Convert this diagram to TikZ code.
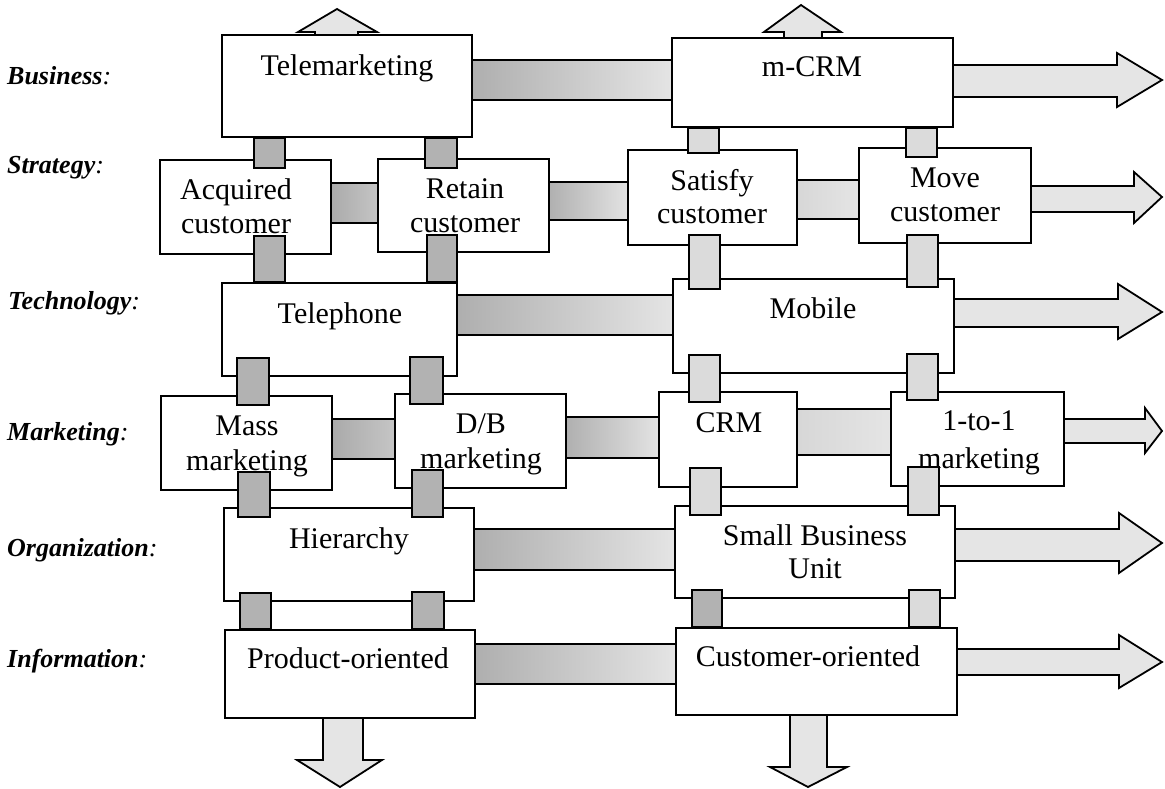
\documentclass[tikz,border=0pt]{standalone}
\usepackage{fontspec}
\setmainfont{Liberation Serif}
\pgfdeclarelayer{bg}
\pgfsetlayers{bg,main}
\tikzset{
  box/.style={draw, line width=1.8pt, fill=white, inner sep=0pt},
  txt/.style={anchor=base, inner sep=0pt, font=\fontsize{30}{34}\selectfont},
  lab/.style={anchor=base west, inner sep=0pt, font=\fontsize{26}{30}\selectfont\bfseries\itshape},
  banddark/.style={draw, line width=1.8pt, left color=black!34, right color=black!22},
  bandfade/.style={draw, line width=1.8pt, left color=black!32, right color=black!10},
  bandlight/.style={draw, line width=1.8pt, left color=black!16, right color=black!10},
  arr/.style={draw, line width=1.8pt, fill=black!10, line join=miter},
  vdark/.style={draw, line width=1.8pt, fill=black!30},
  vlight/.style={draw, line width=1.8pt, fill=black!14},
}
\newcommand\mkbox[5]{\node[box, minimum width={#4pt-#2pt}, minimum height={#5pt-#3pt}] (#1) at ({(#2+#4)/2},{(#3+#5)/2}) {};}
\begin{document}
\begin{tikzpicture}[x=1pt,y=-1pt]
\useasboundingbox (0,0) rectangle (1165,789);
% boxes
\mkbox{TM}{222}{35}{472}{137}
\mkbox{MCRM}{672}{38}{953}{127}
\mkbox{ACQ}{160}{160}{331}{254}
\mkbox{RET}{378}{159}{549}{252}
\mkbox{SAT}{628}{150}{797}{245}
\mkbox{MOVE}{859}{148}{1031}{243}
\mkbox{TEL}{222}{283}{457}{376}
\mkbox{MOB}{673}{279}{954}{373}
\mkbox{MASS}{161}{396}{332}{490}
\mkbox{DB}{395}{394}{566}{488}
\mkbox{CRM}{659}{392}{797}{487}
\mkbox{ONE}{891}{392}{1064}{486}
\mkbox{HIER}{224}{508}{474}{601}
\mkbox{SBU}{675}{506}{955}{598}
\mkbox{PROD}{225}{630}{475}{718}
\mkbox{CUST}{676}{628}{957}{715}

\begin{pgfonlayer}{bg}
% horizontal bands
\draw[bandfade] ([xshift=-5pt]TM.east |- 0,60) rectangle ([xshift=5pt]MCRM.west |- 0,100);
\draw[banddark] ([xshift=-5pt]ACQ.east |- 0,183) rectangle ([xshift=5pt]RET.west |- 0,223);
\draw[bandfade] ([xshift=-5pt]RET.east |- 0,182) rectangle ([xshift=5pt]SAT.west |- 0,220);
\draw[bandlight] ([xshift=-5pt]SAT.east |- 0,180) rectangle ([xshift=5pt]MOVE.west |- 0,219);
\draw[bandfade] ([xshift=-5pt]TEL.east |- 0,295) rectangle ([xshift=5pt]MOB.west |- 0,335);
\draw[banddark] ([xshift=-5pt]MASS.east |- 0,419) rectangle ([xshift=5pt]DB.west |- 0,459);
\draw[bandfade] ([xshift=-5pt]DB.east |- 0,417) rectangle ([xshift=5pt]CRM.west |- 0,458);
\draw[bandlight] ([xshift=-5pt]CRM.east |- 0,409) rectangle ([xshift=5pt]ONE.west |- 0,455);
\draw[bandfade] ([xshift=-5pt]HIER.east |- 0,529) rectangle ([xshift=5pt]SBU.west |- 0,570);
\draw[bandfade] ([xshift=-5pt]PROD.east |- 0,644) rectangle ([xshift=5pt]CUST.west |- 0,684);
% right arrows
\draw[arr] ([xshift=-5pt]MCRM.east |- 0,65) -- (1117,65) -- (1117,53) -- (1162,80) -- (1117,107) -- (1117,97) -- ([xshift=-5pt]MCRM.east |- 0,97) -- cycle;
\draw[arr] ([xshift=-5pt]MOVE.east |- 0,186) -- (1134,186) -- (1134,172) -- (1162,197) -- (1134,223) -- (1134,212) -- ([xshift=-5pt]MOVE.east |- 0,212) -- cycle;
\draw[arr] ([xshift=-5pt]MOB.east |- 0,299) -- (1118,299) -- (1118,284) -- (1162,312) -- (1118,339) -- (1118,327) -- ([xshift=-5pt]MOB.east |- 0,327) -- cycle;
\draw[arr] ([xshift=-5pt]ONE.east |- 0,419) -- (1145,419) -- (1145,408) -- (1162,431) -- (1145,453) -- (1145,443) -- ([xshift=-5pt]ONE.east |- 0,443) -- cycle;
\draw[arr] ([xshift=-5pt]SBU.east |- 0,529) -- (1119,529) -- (1119,513) -- (1162,543) -- (1119,573) -- (1119,561) -- ([xshift=-5pt]SBU.east |- 0,561) -- cycle;
\draw[arr] ([xshift=-5pt]CUST.east |- 0,649) -- (1119,649) -- (1119,635) -- (1162,662) -- (1119,688) -- (1119,675) -- ([xshift=-5pt]CUST.east |- 0,675) -- cycle;
% up arrows
\draw[arr] (315,40) -- (315,32) -- (298,32) -- (337,9) -- (377,32) -- (358,32) -- (358,40) -- cycle;
\draw[arr] (784,43) -- (784,32) -- (764,32) -- (801,5) -- (841,32) -- (822,32) -- (822,43) -- cycle;
% down arrows
\draw[arr] (323,713) -- (323,760) -- (297,760) -- (340,787) -- (382,760) -- (363,760) -- (363,713) -- cycle;
\draw[arr] (790,710) -- (790,767) -- (770,767) -- (808,787) -- (847,767) -- (827,767) -- (827,710) -- cycle;
\end{pgfonlayer}

% texts
\node[txt] (TMt) at (347,76) {Telemarketing};
\node[txt] (MCRMt) at (812,77) {m-CRM};
\node[txt] (ACQt1) at (236,199) {Acquired};
\node[txt] (ACQt2) at (236,233) {customer};
\node[txt] (RETt1) at (465,198) {Retain};
\node[txt] (RETt2) at (465,232) {customer};
\node[txt] (SATt1) at (712,190) {Satisfy};
\node[txt] (SATt2) at (712,223) {customer};
\node[txt] (MOVEt1) at (945,188) {Move};
\node[txt] (MOVEt2) at (945,222) {customer};
\node[txt] (TELt) at (340,323) {Telephone};
\node[txt] (MOBt) at (813,318) {Mobile};
\node[txt] (MASSt1) at (247,435) {Mass};
\node[txt] (MASSt2) at (247,470) {marketing};
\node[txt] (DBt1) at (481,433) {D/B};
\node[txt] (DBt2) at (481,468) {marketing};
\node[txt] (CRMt) at (729,432) {CRM};
\node[txt] (ONEt1) at (979,430) {1-to-1};
\node[txt] (ONEt2) at (979,468) {marketing};
\node[txt] (HIERt) at (349,548) {Hierarchy};
\node[txt] (SBUt1) at (815,545) {Small Business};
\node[txt] (SBUt2) at (815,578) {Unit};
\node[txt] (PRODt) at (348,668) {Product-oriented};
\node[txt] (CUSTt) at (808,666) {Customer-oriented};

% row labels
\node[lab] (L1) at (7,85) {Business\textmd{:}};
\node[lab] (L2) at (7,174) {Strategy\textmd{:}};
\node[lab] (L3) at (8,309) {Technology\textmd{:}};
\node[lab] (L4) at (7,440) {Marketing\textmd{:}};
\node[lab] (L5) at (7,556) {Organization\textmd{:}};
\node[lab] (L6) at (7,667) {Information\textmd{:}};

% vertical connectors
\draw[vdark] (254,0 |- TM.south) rectangle (285,168);
\draw[vdark] (425,0 |- TM.south) rectangle (457,168);
\draw[vlight] (688,0 |- MCRM.south) rectangle (719,153);
\draw[vlight] (906,0 |- MCRM.south) rectangle (937,157);
\draw[vdark] (254,236) rectangle (285,0 |- TEL.north);
\draw[vdark] (427,235) rectangle (457,0 |- TEL.north);
\draw[vlight] (689,235) rectangle (720,289);
\draw[vlight] (907,235) rectangle (938,287);
\draw[vdark] (237,358) rectangle (269,405);
\draw[vdark] (410,357) rectangle (443,404);
\draw[vlight] (689,355) rectangle (720,402);
\draw[vlight] (907,354) rectangle (938,400);
\draw[vdark] (238,472) rectangle (270,517);
\draw[vdark] (412,470) rectangle (443,517);
\draw[vlight] (690,468) rectangle (721,515);
\draw[vlight] (908,467) rectangle (939,515);
\draw[vdark] (240,593) rectangle (271,0 |- PROD.north);
\draw[vdark] (412,592) rectangle (444,0 |- PROD.north);
\draw[vdark] (692,590) rectangle (722,0 |- CUST.north);
\draw[vlight] (909,590) rectangle (940,0 |- CUST.north);
\end{tikzpicture}
\end{document}
